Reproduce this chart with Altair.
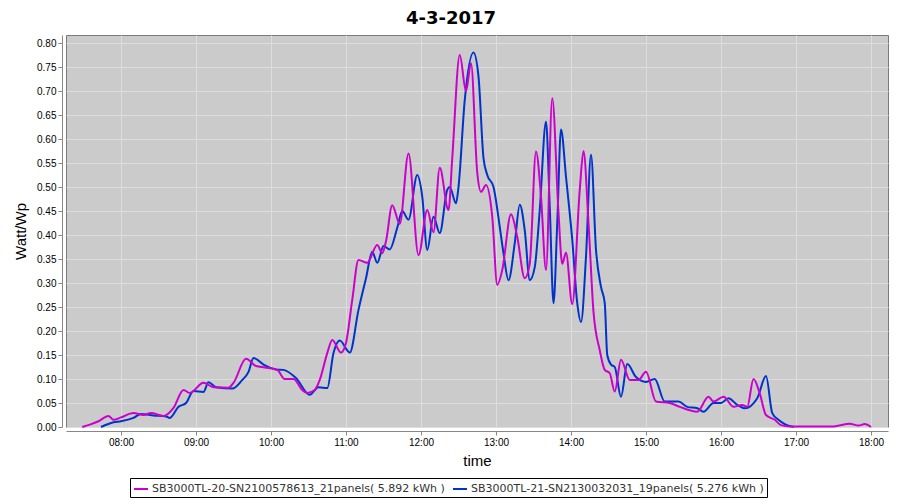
import altair as alt
import pandas as pd

SERIES = ["SB3000TL-20-SN2100578613_21panels( 5.892 kWh )",
          "SB3000TL-21-SN2130032031_19panels( 5.276 kWh )"]
COLORS = ["#cc00cc", "#0033cc"]

m_times = ["07:29", "07:35", "07:42", "07:50", "07:54", "08:00", "08:10", "08:18", "08:24", "08:34",
           "08:42", "08:50", "08:55", "09:06", "09:14", "09:26", "09:30", "09:40", "09:48", "09:55",
           "10:05", "10:11", "10:18", "10:25", "10:29", "10:35", "10:39", "10:45", "10:49", "10:56",
           "11:00", "11:05", "11:10", "11:17", "11:25", "11:29", "11:32", "11:37", "11:43", "11:50",
           "11:58", "12:05", "12:10", "12:15", "12:22", "12:25", "12:31", "12:36", "12:40", "12:45",
           "12:48", "12:52", "12:57", "13:01", "13:05", "13:12", "13:17", "13:23", "13:27", "13:32",
           "13:36", "13:40", "13:45", "13:50", "13:53", "13:56", "14:01", "14:07", "14:10", "14:14",
           "14:18", "14:23", "14:27", "14:31", "14:35", "14:40", "14:47", "14:54", "15:00", "15:08",
           "15:19", "15:27", "15:41", "15:50", "15:54", "16:02", "16:10", "16:17", "16:21", "16:26",
           "16:31", "16:36", "16:43", "16:48", "16:55", "17:30", "17:43", "17:50", "17:55", "18:00"]
m_vals = [0.000, 0.005, 0.012, 0.023, 0.015, 0.020, 0.029, 0.025, 0.029, 0.023,
          0.040, 0.077, 0.071, 0.092, 0.083, 0.082, 0.092, 0.142, 0.127, 0.124,
          0.119, 0.100, 0.100, 0.077, 0.071, 0.077, 0.098, 0.154, 0.181, 0.155,
          0.175, 0.265, 0.348, 0.342, 0.379, 0.362, 0.387, 0.462, 0.423, 0.570,
          0.358, 0.452, 0.406, 0.540, 0.452, 0.560, 0.775, 0.700, 0.758, 0.530,
          0.490, 0.504, 0.438, 0.296, 0.327, 0.443, 0.396, 0.310, 0.340, 0.574,
          0.480, 0.327, 0.685, 0.446, 0.340, 0.363, 0.256, 0.494, 0.575, 0.425,
          0.240, 0.160, 0.119, 0.112, 0.074, 0.140, 0.098, 0.098, 0.115, 0.053,
          0.050, 0.042, 0.032, 0.063, 0.053, 0.063, 0.042, 0.046, 0.042, 0.100,
          0.070, 0.025, 0.015, 0.004, 0.001, 0.001, 0.007, 0.003, 0.006, 0.000]

b_times = ["07:44", "07:54", "08:00", "08:10", "08:16", "08:26", "08:36", "08:39", "08:46", "08:52",
           "08:58", "09:06", "09:10", "09:16", "09:29", "09:37", "09:42", "09:46", "09:54", "10:04",
           "10:10", "10:20", "10:31", "10:38", "10:45", "10:50", "10:55", "11:03", "11:10", "11:16",
           "11:21", "11:25", "11:30", "11:35", "11:41", "11:45", "11:50", "11:57", "12:01", "12:05",
           "12:10", "12:15", "12:21", "12:23", "12:28", "12:30", "12:35", "12:42", "12:46", "12:50",
           "12:53", "12:58", "13:03", "13:06", "13:10", "13:15", "13:19", "13:23", "13:27", "13:31",
           "13:35", "13:40", "13:43", "13:46", "13:49", "13:52", "13:56", "14:01", "14:05", "14:08",
           "14:12", "14:16", "14:20", "14:24", "14:27", "14:29", "14:32", "14:35", "14:40", "14:45",
           "14:52", "15:00", "15:07", "15:15", "15:26", "15:33", "15:41", "15:46", "15:54", "16:00",
           "16:06", "16:13", "16:19", "16:29", "16:36", "16:41", "16:46", "16:51", "16:58"]
b_vals = [0.000, 0.010, 0.012, 0.019, 0.027, 0.024, 0.022, 0.019, 0.042, 0.050,
          0.075, 0.073, 0.093, 0.083, 0.080, 0.098, 0.115, 0.144, 0.130, 0.120,
          0.119, 0.102, 0.067, 0.083, 0.081, 0.154, 0.180, 0.155, 0.244, 0.310,
          0.365, 0.342, 0.377, 0.370, 0.415, 0.450, 0.432, 0.525, 0.480, 0.369,
          0.438, 0.404, 0.494, 0.500, 0.466, 0.500, 0.681, 0.780, 0.730, 0.560,
          0.525, 0.500, 0.417, 0.362, 0.306, 0.383, 0.463, 0.410, 0.306, 0.333,
          0.452, 0.636, 0.459, 0.258, 0.425, 0.620, 0.521, 0.390, 0.258, 0.219,
          0.355, 0.567, 0.369, 0.292, 0.258, 0.150, 0.130, 0.125, 0.063, 0.131,
          0.104, 0.094, 0.100, 0.053, 0.053, 0.042, 0.039, 0.032, 0.050, 0.050,
          0.060, 0.046, 0.039, 0.060, 0.106, 0.029, 0.015, 0.006, 0.000]

x_ticks = ["08:00", "09:00", "10:00", "11:00", "12:00", "13:00", "14:00", "15:00", "16:00", "17:00", "18:00"]
y_ticks = [round(i * 0.05, 2) for i in range(17)]


def to_min(s):
    h, m = s.split(":")
    return int(h) * 60 + int(m)


rows = []
for t, v in zip(m_times, m_vals):
    rows.append({"t": to_min(t), "v": v, "series": SERIES[0]})
for t, v in zip(b_times, b_vals):
    rows.append({"t": to_min(t), "v": v, "series": SERIES[1]})
df = pd.DataFrame(rows)

x_enc = alt.X("t:Q",
              scale=alt.Scale(domain=[436, 1093.6], nice=False, zero=False),
              axis=alt.Axis(values=[to_min(s) for s in x_ticks],
                            labelExpr="(floor(datum.value/60) < 10 ? '0' : '') + floor(datum.value/60) + ':00'",
                            title="time", offset=4, tickSize=4, titleFontSize=15,
                            titleFontWeight="normal", titlePadding=6))
y_enc = alt.Y("v:Q",
              scale=alt.Scale(domain=[0, 0.8167], nice=False),
              axis=alt.Axis(values=y_ticks, format=".2f", title="Watt/Wp", offset=4,
                            tickSize=4, titleFontSize=15, titleFontWeight="normal",
                            titlePadding=8))
color_enc = alt.Color("series:N",
                      scale=alt.Scale(domain=SERIES, range=COLORS),
                      legend=alt.Legend(title=None, orient="none", legendX=64, legendY=443,
                                        direction="horizontal", symbolType="stroke",
                                        symbolSize=196, symbolStrokeWidth=2,
                                        labelFontSize=11, labelLimit=0, strokeColor="black",
                                        fillColor="white", padding=3, columnPadding=4,
                                        labelOffset=3, cornerRadius=0, labelColor="#333333",
                                        labelFont="DejaVu Sans"))

base = alt.Chart(df).mark_line(strokeWidth=2, interpolate="monotone").encode(
    x=x_enc, y=y_enc, color=color_enc)

blue = base.transform_filter(alt.datum.series == SERIES[1])
mag = base.transform_filter(alt.datum.series == SERIES[0])

chart = alt.layer(blue, mag).properties(
    width=822, height=392,
    view=alt.ViewBackground(fill="#cbcbcb", stroke="#7a7a7a", strokeWidth=1),
    title=alt.TitleParams("4-3-2017", fontSize=18, font="DejaVu Sans", fontWeight="bold",
                          anchor="middle", dx=-26, offset=7, color="black"),
    autosize=alt.AutoSizeParams(type="none"),
    padding={"left": 58, "top": 27, "right": 4, "bottom": 72},
).configure_axis(
    labelFont="DejaVu Sans", labelFontSize=11, labelColor="#444444",
    titleFont="DejaVu Sans", titleColor="#222222",
    domainColor="#b8b8b8", tickColor="#999999",
    gridColor="#ffffff", gridDash=[2, 2], gridWidth=0.8, gridOpacity=1
).configure(background="white")

chart.save("out.html", embed_options={"renderer": "svg", "actions": False})
